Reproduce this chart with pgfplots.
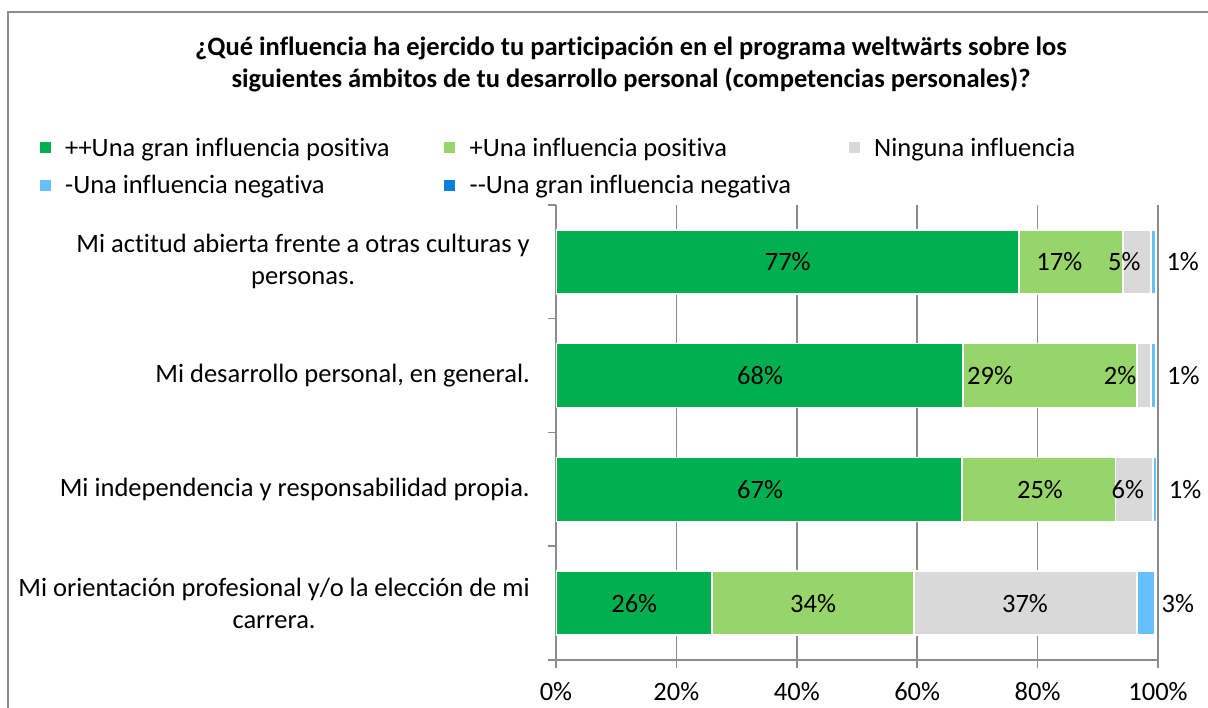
\documentclass[border=0pt]{standalone}
\usepackage{fontspec}
\setmainfont{Carlito}[Ligatures=NoCommon]
\usepackage{pgfplots}
\pgfplotsset{compat=1.18}
\definecolor{dgreen}{HTML}{00B050}
\definecolor{lgreen}{HTML}{97D46A}
\definecolor{lgray}{HTML}{D9D9D9}
\definecolor{lblue}{HTML}{66BFFF}
\definecolor{dblue}{HTML}{0C7FDA}
\definecolor{axgray}{HTML}{8C8C8C}
\newcommand{\bigfont}{\fontsize{26.5pt}{32pt}\selectfont}
\newcommand{\lgt}[1]{\makebox[377.5pt][l]{#1}}
\pgfplotsset{
  common/.style={
    at={(556pt,48pt)}, anchor=south west,
    scale only axis, width=602pt, height=455pt,
    xmin=0, xmax=100, ymin=-0.5, ymax=3.5,
    font=\bigfont,
    /pgf/number format/assume math mode=true,
  }
}
\begin{document}
\begin{tikzpicture}
\useasboundingbox (0pt,0pt) rectangle (1208pt,708pt);
\draw[axgray, line width=1.5pt] (8pt,0pt) -- (8pt,696pt) -- (1208pt,696pt);
\node[font=\bigfont\bfseries, align=center] at (631pt,644pt) {¿Qué influencia ha ejercido tu participación en el programa weltwärts sobre los\\siguientes ámbitos de tu desarrollo personal (competencias personales)?};
\begin{axis}[common,
  xbar stacked, bar width=64pt,
  axis x line*=bottom, axis y line*=left,
  axis line style={axgray, line width=1.5pt},
  xtick={0,20,40,60,80,100},
  xticklabel={\pgfmathprintnumber{\tick}\%},
  tick align=outside,
  major tick length=8pt, minor tick length=8pt,
  every major x tick/.style={axgray, line width=1.5pt},
  xmajorgrids,
  major x grid style={axgray, line width=1.5pt},
  ytick={0,1,2,3},
  yticklabels={{Mi orientación profesional y/o la elección de mi\\carrera.},
               {Mi independencia y responsabilidad propia.},
               {Mi desarrollo personal, en general.},
               {Mi actitud abierta frente a otras culturas y\\personas.}},
  yticklabel style={align=center, inner sep=0pt, xshift=-18pt},
  every major y tick/.style={draw=none},
  minor ytick={-0.5,0.5,1.5,2.5,3.5},
  every minor y tick/.style={axgray, line width=1.5pt},
  xticklabel style={inner sep=0pt, anchor=base, yshift=-33pt},
  legend columns=3,
  legend style={draw=none, fill=none, inner sep=0pt,
    at={(axis description cs:-0.8605,1.0846)}, anchor=west,
    nodes={inner sep=0pt, text height=27.5pt, text depth=10pt},
    /tikz/every odd column/.style={column sep=13pt}},
  legend image code/.code={\fill[#1] (0pt,-6.25pt) rectangle (12.5pt,6.25pt);},
]
\addplot[fill=dgreen, draw=white, line width=1.5pt] coordinates {(76.9,3) (67.6,2) (67.4,1) (25.9,0)};
\addplot[fill=lgreen, draw=white, line width=1.5pt] coordinates {(17.3,3) (28.9,2) (25.5,1) (33.6,0)};
\addplot[fill=lgray, draw=white, line width=1.5pt] coordinates {(4.6,3) (2.3,2) (6.3,1) (37.0,0)};
\addplot[fill=lblue, draw=white, line width=1.5pt] coordinates {(0.9,3) (0.9,2) (0.55,1) (2.9,0)};
\addplot[fill=dblue, draw=white, line width=1.5pt] coordinates {(0,3) (0,2) (0,1) (0,0)};
\addlegendentry{\lgt{++Una gran influencia positiva}}
\addlegendentry{\lgt{+Una influencia positiva}}
\addlegendentry{\lgt{Ninguna influencia}}
\addlegendentry{\lgt{-Una influencia negativa}}
\addlegendentry{\lgt{-{}-Una gran influencia negativa}}
\end{axis}
\begin{axis}[common, hide axis, clip=false]
\addplot[only marks, mark=*, mark size=0pt, mark options={draw=none, fill=none},
  nodes near coords={\pgfmathprintnumber{\pgfplotspointmeta}\%},
  every node near coord/.append style={anchor=center, inner sep=0pt, font=\bigfont},
  point meta=explicit]
  table[x=x, y=y, meta=m] {
x y m
38.5 3 77
83.6 3 17
94.4 3 5
104.1 3 1
33.9 2 68
72.1 2 29
93.7 2 2
104.2 2 1
33.9 1 67
80.4 1 25
95.0 1 6
104.5 1 1
13.0 0 26
42.7 0 34
77.9 0 37
103.3 0 3
};
\end{axis}
\end{tikzpicture}
\end{document}
